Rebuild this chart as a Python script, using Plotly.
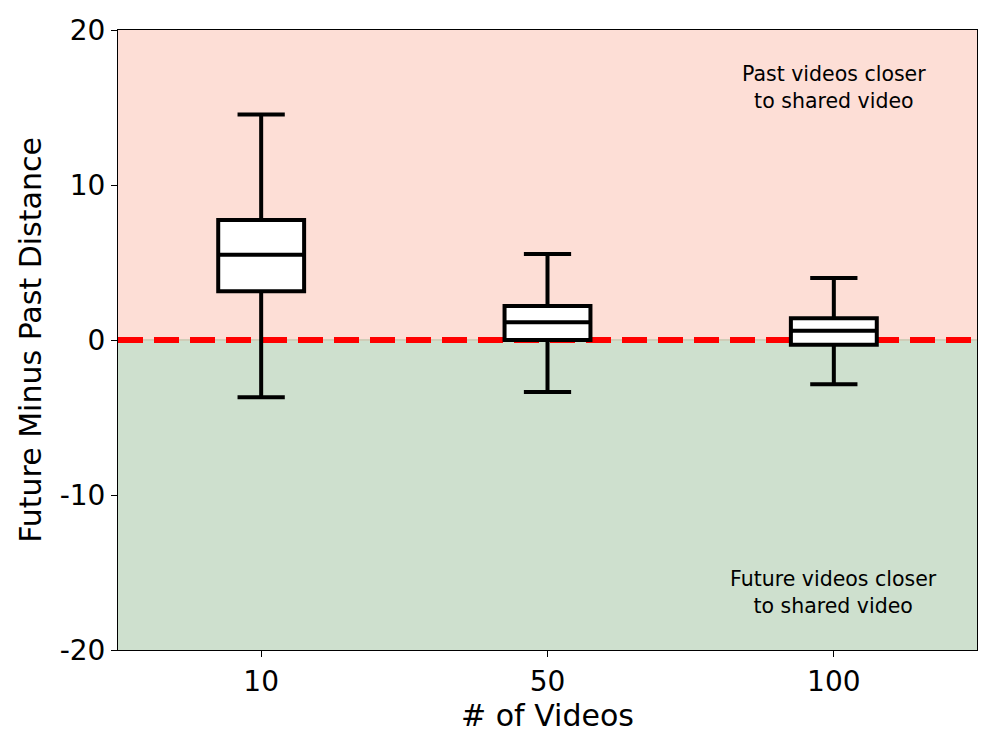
import plotly.graph_objects as go

categories = ['10', '50', '100']
q1 = [3.15, 0.0, -0.3]
median = [5.5, 1.15, 0.6]
q3 = [7.75, 2.2, 1.4]
lower = [-3.7, -3.35, -2.85]
upper = [14.55, 5.55, 4.0]

fig = go.Figure()

for i, c in enumerate(categories):
    fig.add_trace(go.Box(
        x=[c],
        q1=[q1[i]], median=[median[i]], q3=[q3[i]],
        lowerfence=[lower[i]], upperfence=[upper[i]],
        fillcolor='white',
        line=dict(color='black', width=4),
        whiskerwidth=0.55,
        width=0.3,
        boxpoints=False,
        showlegend=False,
        hoverinfo='skip',
    ))

fig.add_shape(type='rect', xref='paper', yref='y', x0=0, x1=1, y0=0, y1=20,
              fillcolor='#FDDED6', line_width=0, layer='below')
fig.add_shape(type='rect', xref='paper', yref='y', x0=0, x1=1, y0=-20, y1=0,
              fillcolor='#CEE0CE', line_width=0, layer='below')
fig.add_shape(type='line', xref='paper', yref='y', x0=0, x1=1, y0=0, y1=0,
              line=dict(color='#D0CDB8', width=2), layer='below')
fig.add_shape(type='line', xref='paper', yref='y', x0=0, x1=1, y0=0, y1=0,
              line=dict(color='red', width=6, dash='25px,11px'), layer='below')

fig.add_annotation(x=2, y=16.3, xref='x', yref='y', showarrow=False,
                   text='Past videos closer<br>to shared video',
                   font=dict(size=20.5, color='black'))
fig.add_annotation(x=2, y=-16.3, xref='x', yref='y', showarrow=False,
                   text='Future videos closer<br>to shared video',
                   font=dict(size=20.5, color='black'))

fig.update_layout(
    width=996, height=747,
    margin=dict(l=110, r=27, t=22, b=105),
    paper_bgcolor='white',
    plot_bgcolor='rgba(0,0,0,0)',
    font=dict(family='DejaVu Sans', size=28, color='black'),
    xaxis=dict(
        title=dict(text='# of Videos', font=dict(size=30), standoff=1),
        range=[-0.5, 2.5],
        automargin=False,
        showgrid=False, zeroline=False,
        showline=True, linecolor='black', linewidth=1, mirror=True,
        ticks='outside', ticklen=6, tickcolor='black',
    ),
    yaxis=dict(
        title=dict(text='Future Minus Past Distance', font=dict(size=30), standoff=9),
        range=[-20, 20],
        automargin=False,
        tickvals=[-20, -10, 0, 10, 20],
        ticktext=['-20', '-10', '0', '10', '20'],
        showgrid=False, zeroline=False,
        showline=True, linecolor='black', linewidth=1, mirror=True,
        ticks='outside', ticklen=6, tickcolor='black',
    ),
)

fig.write_html('out.html')
